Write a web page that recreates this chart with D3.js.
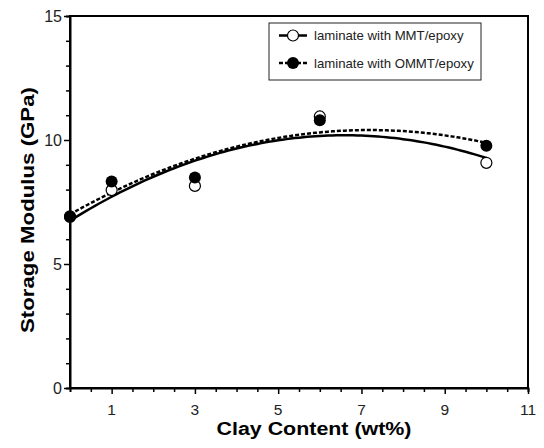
<!DOCTYPE html>
<html><head><meta charset="utf-8">
<script src="https://cdn.jsdelivr.net/npm/d3@7"></script>
<style>body{margin:0;background:#fff}svg{display:block}</style>
</head><body>
<script>
const clay = [0, 1, 3, 6, 10];
const mmt = [6.9, 7.98, 8.15, 10.95, 9.08];
const ommt = [6.93, 8.33, 8.49, 10.8, 9.77];
const seriesNames = ["laminate with MMT/epoxy", "laminate with OMMT/epoxy"];
const xMajorTicks = [1, 3, 5, 7, 9, 11];
const yMajorTicks = [0, 5, 10, 15];

const W = 544, H = 448;
const m = {left: 70, right: 16, top: 16, bottom: 60};
const svg = d3.select("body").append("svg").attr("width", W).attr("height", H);
const x = d3.scaleLinear().domain([0, 11]).range([m.left, W - m.right]);
const y = d3.scaleLinear().domain([0, 15]).range([H - m.bottom, m.top]);
const font = "Liberation Sans, Arial, sans-serif";

// quadratic least-squares fit
function quadFit(xs, ys) {
  let S = [0,0,0,0,0], T = [0,0,0];
  xs.forEach((xv, i) => {
    for (let k = 0; k < 5; k++) S[k] += Math.pow(xv, k);
    for (let k = 0; k < 3; k++) T[k] += Math.pow(xv, k) * ys[i];
  });
  const A = [[S[0],S[1],S[2],T[0]],[S[1],S[2],S[3],T[1]],[S[2],S[3],S[4],T[2]]];
  for (let i = 0; i < 3; i++) {
    for (let j = i + 1; j < 3; j++) {
      const f = A[j][i] / A[i][i];
      for (let k = i; k < 4; k++) A[j][k] -= f * A[i][k];
    }
  }
  const c = [0,0,0];
  for (let i = 2; i >= 0; i--) {
    let s = A[i][3];
    for (let k = i + 1; k < 3; k++) s -= A[i][k] * c[k];
    c[i] = s / A[i][i];
  }
  return xv => c[0] + c[1] * xv + c[2] * xv * xv;
}

// frame
svg.append("rect").attr("x", x(0)).attr("y", y(15)).attr("width", x(11) - x(0)).attr("height", y(0) - y(15))
  .attr("fill", "none").attr("stroke", "#000").attr("stroke-width", 2);

// x axis
const xAll = d3.range(0.5, 11.01, 0.5);
const xAxis = d3.axisBottom(x).tickValues(xAll).tickSize(4).tickFormat("");
const gx = svg.append("g").attr("transform", `translate(0,${y(0)})`).call(xAxis);
gx.select(".domain").attr("stroke-width", 2);
gx.selectAll(".tick line").attr("stroke-width", 1.5).attr("y2", d => xMajorTicks.includes(d) ? 6 : 4);
svg.append("g").selectAll("text").data(xMajorTicks).join("text")
  .attr("x", d => x(d)).attr("y", 415).attr("text-anchor", "middle")
  .attr("font-family", font).attr("font-size", 15.5).attr("fill", "#222").text(d => d);

// y axis
const yAll = d3.range(0, 15.01, 1);
const yAxis = d3.axisLeft(y).tickValues(yAll).tickSize(4).tickFormat("");
const gy = svg.append("g").attr("transform", `translate(${x(0)},0)`).call(yAxis);
gy.select(".domain").attr("stroke-width", 2);
gy.selectAll(".tick line").attr("stroke-width", 1.5).attr("x2", d => yMajorTicks.includes(d) ? -6 : -4);
svg.append("g").selectAll("text").data(yMajorTicks).join("text")
  .attr("x", 62).attr("y", d => y(d) + 6).attr("text-anchor", "end")
  .attr("font-family", font).attr("font-size", 16).attr("fill", "#222").text(d => d);

// axis titles
svg.append("text").attr("x", 314).attr("y", 435).attr("text-anchor", "middle")
  .attr("font-family", font).attr("font-weight", "bold").attr("font-size", 18)
  .attr("textLength", 195).attr("lengthAdjust", "spacingAndGlyphs").text("Clay Content (wt%)");
svg.append("text").attr("transform", `translate(34,210) rotate(-90)`).attr("text-anchor", "middle")
  .attr("font-family", font).attr("font-weight", "bold").attr("font-size", 19)
  .attr("textLength", 246).attr("lengthAdjust", "spacingAndGlyphs").text("Storage Modulus (GPa)");

// fit curves
const xs = d3.range(0, 10.001, 0.1);
const fM = quadFit(clay, mmt), fO = quadFit(clay, ommt);
const line = f => d3.line().x(d => x(d)).y(d => y(f(d)));
svg.append("path").attr("d", line(fM)(xs)).attr("fill", "none").attr("stroke", "#000").attr("stroke-width", 2.5);
svg.append("path").attr("d", line(fO)(xs)).attr("fill", "none").attr("stroke", "#000").attr("stroke-width", 2.5)
  .attr("stroke-dasharray", "4,2");

// points
svg.append("g").selectAll("circle").data(clay).join("circle")
  .attr("cx", d => x(d)).attr("cy", (d, i) => y(mmt[i])).attr("r", 5.5)
  .attr("fill", "#fff").attr("stroke", "#000").attr("stroke-width", 1.2);
svg.append("g").selectAll("circle").data(clay).join("circle")
  .attr("cx", d => x(d)).attr("cy", (d, i) => y(ommt[i])).attr("r", 6)
  .attr("fill", "#000");

// legend
const lg = svg.append("g");
lg.append("rect").attr("x", 269).attr("y", 23).attr("width", 212).attr("height", 57)
  .attr("fill", "#fff").attr("stroke", "#222").attr("stroke-width", 1);
const rows = [35.5, 63];
rows.forEach((ry, i) => {
  lg.append("line").attr("x1", 279).attr("x2", 307).attr("y1", ry).attr("y2", ry)
    .attr("stroke", "#000").attr("stroke-width", 2.5).attr("stroke-dasharray", i ? "4,2" : null);
  lg.append("circle").attr("cx", 293).attr("cy", ry).attr("r", i ? 6 : 5.5)
    .attr("fill", i ? "#000" : "#fff").attr("stroke", "#000").attr("stroke-width", i ? 0 : 1.2);
  lg.append("text").attr("x", 314).attr("y", ry + 4.5).attr("font-family", font).attr("font-size", 13.2)
    .attr("fill", "#222").text(seriesNames[i]);
});
</script>
</body></html>
